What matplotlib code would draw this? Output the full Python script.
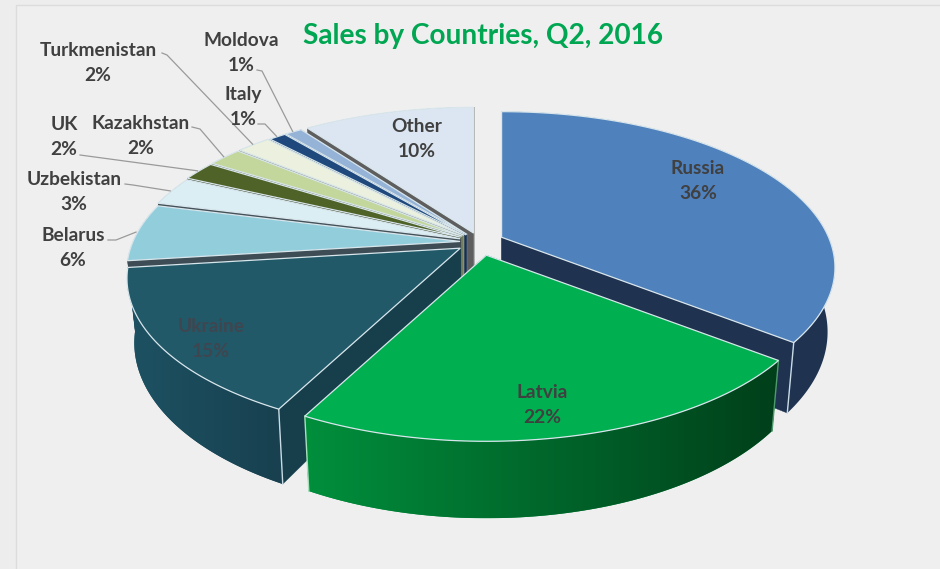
import numpy as np
import matplotlib
matplotlib.use("Agg")
import matplotlib.pyplot as plt
from matplotlib.colors import to_rgb
from matplotlib.patches import Polygon, Rectangle

countries = ["Russia", "Latvia", "Ukraine", "Belarus", "Uzbekistan", "UK",
             "Kazakhstan", "Turkmenistan", "Italy", "Moldova", "Other"]
shares = [35.6, 22.0, 15.4, 6, 3, 2, 2, 2, 1, 1, 10]

top_colors = ["#4F81BD", "#00B050", "#215968", "#92CDDC", "#DAEEF3", "#4F6228",
              "#C3D69B", "#EBF1DE", "#1F497D", "#95B3D7", "#DCE6F2"]
wall_left = ["#1F3250", "#008F3C", "#1D5263", "#3E4C55", "#45525A", "#333D1C",
             "#6F7A58", "#8A8F7E", "#14304F", "#5B6F88", "#5E5E5E"]
wall_right = ["#1F3250", "#003F1A", "#18404F", "#3E4C55", "#45525A", "#333D1C",
              "#6F7A58", "#8A8F7E", "#14304F", "#5B6F88", "#5E5E5E"]
explode = [24, 30, 24, 20, 21, 22, 22, 22, 21, 21, 21]
draw_order = ["Other", "Moldova", "Italy", "Turkmenistan", "Kazakhstan", "UK",
              "Uzbekistan", "Belarus", "Russia", "Ukraine", "Latvia"]

# label centre (x, y of name line), leader start and elbow
label_pos = {"Russia": (698, 168), "Latvia": (542, 392), "Ukraine": (211, 326),
             "Belarus": (73, 235), "Uzbekistan": (74, 179), "UK": (64, 124),
             "Kazakhstan": (141, 123), "Turkmenistan": (98, 50), "Italy": (243, 94),
             "Moldova": (241, 40), "Other": (417, 126)}
leaders = {"Belarus": [(108, 240), (116, 240)], "Uzbekistan": [(125, 184), (133, 185)],
           "UK": [(80, 155)], "Kazakhstan": [(192, 127), (200, 129)],
           "Turkmenistan": [(162, 53), (167, 55)], "Italy": [(258, 124), (265, 124)],
           "Moldova": [(257, 70), (262, 71)]}

CX, CY = 480, 242
RX, RY, PERSP = 327, 150, 0.194
DEPTH, SHRINK = 62, 0.978


def project(deg, apex, r=1.0):
    a = np.radians(deg)
    x, y = r * np.cos(a), r * np.sin(a)
    s = 1 / (1 + PERSP * y)
    return apex[0] + RX * x * s, apex[1] - RY * y * s


def lower(pt, apex, deg=None):
    # same point on the bottom face of the slab
    y = np.sin(np.radians(deg)) if deg is not None else 0
    s = 1 / (1 + PERSP * y)
    return apex[0] + (pt[0] - apex[0]) * SHRINK, pt[1] + DEPTH * s


fig = plt.figure(figsize=(9.4, 5.69), dpi=100)
ax = fig.add_axes([0, 0, 1, 1])
ax.axis("off")
fig.patch.set_facecolor("#EDEDED")
ax.add_patch(Rectangle((16, 5), 930, 570, fc="#EFEFEF", ec="#DCDCDC", lw=1, zorder=0))

# slice angles, going clockwise from twelve o'clock
stops = 90 - 3.6 * np.cumsum([0] + shares)
slices = {}
for i, name in enumerate(countries):
    a0, a1 = stops[i], stops[i + 1]
    mid = np.radians((a0 + a1) / 2)
    apex = (CX + explode[i] * np.cos(mid), CY - explode[i] * np.sin(mid) * 0.45)
    slices[name] = (i, a0, a1, apex)

for n, name in enumerate(draw_order):
    z = 1 + n * 0.1
    i, a0, a1, apex = slices[name]
    angles = np.linspace(a0, a1, max(int((a0 - a1) * 2), 8))
    rim = [project(a, apex) for a in angles]
    rim_low = [lower(p, apex, a) for p, a in zip(rim, angles)]
    apex_low = lower(apex, apex)
    cut = "#163E4B" if name == "Ukraine" else wall_right[i]
    if name == "Latvia":
        cut = "#00491E"

    # cut faces first, then rim wall, then top
    for p, q in ((rim[0], rim_low[0]), (rim[-1], rim_low[-1])):
        ax.add_patch(Polygon([apex, p, q, apex_low], fc=cut, ec=cut, lw=0.3, zorder=z))
    wall = Polygon(rim + rim_low[::-1], fc=wall_left[i], ec="none", zorder=z + 0.01)
    ax.add_patch(wall)
    if wall_left[i] != wall_right[i]:
        xs = [p[0] for p in rim + rim_low]
        ys = [p[1] for p in rim + rim_low]
        c0, c1 = np.array(to_rgb(wall_left[i])), np.array(to_rgb(wall_right[i]))
        grad = np.linspace(0, 1, 256)[None, :, None] * (c1 - c0) + c0
        im = ax.imshow(grad, extent=[min(xs), max(xs), max(ys), min(ys)], aspect="auto",
                       zorder=z + 0.02)
        im.set_clip_path(wall)
    if name == "Russia":
        corners = [(rim[-1], rim_low[-1], "#C9DCE6")]
    elif name == "Ukraine":
        corners = [(rim[0], rim_low[0], "#C9DCE6")]
    elif name == "Latvia":
        corners = [(rim[-1], rim_low[-1], "#A8E0BC"), (rim[0], rim_low[0], "#4F9A6C")]
    else:
        corners = []
    for p, q, c in corners:
        ax.plot([p[0], q[0]], [p[1], q[1]], color=c, lw=1, zorder=z + 0.03)
    ax.add_patch(Polygon([apex] + rim, fc=top_colors[i], ec="#D8E6EC", lw=0.9,
                         joinstyle="miter", zorder=z + 0.04))

# leader lines end on the rim of their slice
for name, pts in leaders.items():
    i, a0, a1, apex = slices[name]
    end = project((a0 + a1) / 2, apex, 1.005)
    path = pts + [end]
    ax.plot([p[0] for p in path], [p[1] for p in path], color="#9A9A9A", lw=0.9, zorder=6)

font = "Lato"
for i, name in enumerate(countries):
    x, y = label_pos[name]
    col = "#3F4650" if name == "Ukraine" else "#404040"
    ax.text(x, y, name, ha="center", va="center", fontsize=13.8, fontweight="bold",
            family=font, color=col, zorder=7)
    ax.text(x, y + 25, f"{round(shares[i])}%", ha="center", va="center", fontsize=13.8,
            fontweight="bold", family=font, color=col, zorder=7)

ax.text(483, 36, "Sales by Countries, Q2, 2016", ha="center", va="center", fontsize=20.2,
        fontweight="bold", family=font, color="#00A651", zorder=7)

ax.set_xlim(0, 940)
ax.set_ylim(569, 0)
ax.set_aspect("auto")
fig.savefig("out.png", dpi=100, facecolor=fig.get_facecolor())
